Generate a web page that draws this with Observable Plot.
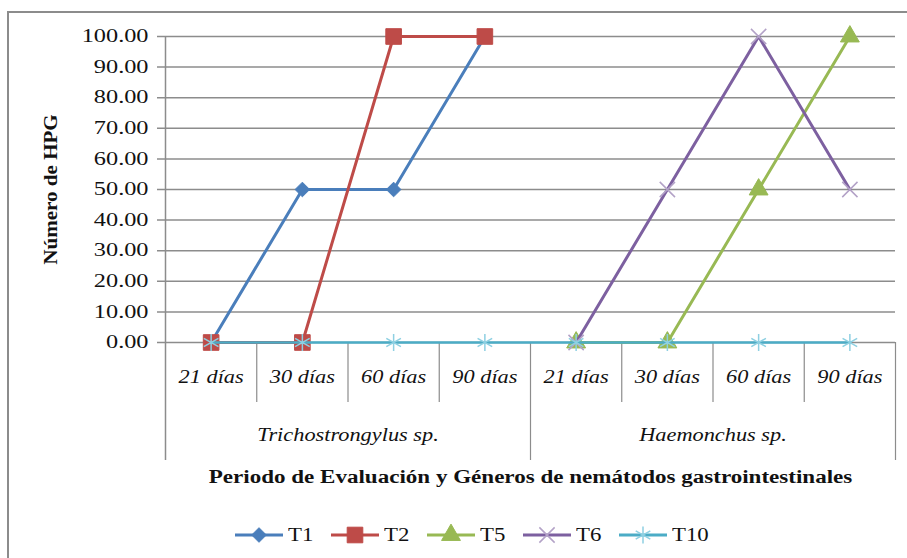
<!DOCTYPE html>
<html>
<head>
<meta charset="utf-8">
<script src="https://cdn.jsdelivr.net/npm/d3@7"></script>
<script src="https://cdn.jsdelivr.net/npm/@observablehq/plot@0.6"></script>
<style>
  html, body { margin: 0; padding: 0; background: #fff; }
  #wrap { position: relative; width: 907px; height: 558px; overflow: hidden; font-family: "Liberation Serif", "Times New Roman", serif; }
  #frame { position: absolute; left: 7px; top: 11px; width: 960px; height: 600px; border-left: 2px solid #8c8c8c; border-top: 2px solid #8c8c8c; }
  #chart { position: absolute; left: 0; top: 0; }
  #legend { position: absolute; left: 235px; top: 516px; height: 38px; display: flex; align-items: center; }
  .item { display: flex; align-items: center; margin-right: 18px; }
  .item span { display: inline-block; font-size: 19px; transform: scaleX(1.2); transform-origin: left center; margin-left: 5px; margin-right: 4px; color: #111; }
</style>
</head>
<body>
<div id="wrap">
  <div id="frame"></div>
  <div id="chart"></div>
  <div id="legend"></div>
</div>
<script>
// ---- data ----
const categories = ["21 días", "30 días", "60 días", "90 días"];
const groups = ["Trichostrongylus sp.", "Haemonchus sp."];
const seriesNames = ["T1", "T2", "T5", "T6", "T10"];
const T1  = [0, 50, 50, 100, null, null, null, null];
const T2  = [0, 0, 100, 100, null, null, null, null];
const T5  = [null, null, null, null, 0, 0, 50, 100];
const T6  = [null, null, null, null, 0, 50, 100, 50];
const T10 = [0, 0, 0, 0, 0, 0, 0, 0];
const yTicks = [0, 10, 20, 30, 40, 50, 60, 70, 80, 90, 100];
const yTitle = "Número de HPG";
const xTitle = "Periodo de Evaluación y Géneros de nemátodos gastrointestinales";

// ---- styles ----
const FONT = "'Liberation Serif', 'Times New Roman', serif";
const lineColors = {T1: "#4A7EBB", T2: "#BE4B48", T5: "#98B954", T6: "#7D60A0", T10: "#4BACC6"};
const markerStyle = {
  T1:  {symbol: "diamond2", r: 6.6, fill: "#4A7EBB", stroke: "#4A7EBB", strokeWidth: 1},
  T2:  {symbol: "square", r: 8.8, fill: "#BE4B48", stroke: "#BE4B48", strokeWidth: 1},
  T5:  {symbol: "triangle", r: 7, fill: "#98B954", stroke: "#98B954", strokeWidth: 1},
  T6:  {symbol: "times", r: 7, fill: "none", stroke: "#B3A2C7", strokeWidth: 1.5},
  T10: {symbol: "asterisk", r: 8, fill: "none", stroke: "#8ED0E2", strokeWidth: 1.5}
};
const seriesValues = {T1, T2, T5, T6, T10};

// table built from the arrays
const slots = [];
groups.forEach((g, gi) => categories.forEach((c, ci) => slots.push({group: g, cat: c, pos: gi * categories.length + ci + 0.5})));
const rows = seriesNames.map(s => seriesValues[s]
  .map((v, i) => ({series: s, pos: slots[i].pos, value: v}))
  .filter(d => d.value !== null));
const groupRows = groups.map((g, gi) => ({group: g, pos: (gi + 0.5) * categories.length}));
const nSlots = slots.length;
const minorDividers = d3.range(1, nSlots).filter(i => i % categories.length !== 0);
const groupDividers = d3.range(categories.length, nSlots + 1, categories.length);

const gridColor = "#8c8c8c";
const textCommon = {fontFamily: FONT, fontSize: 18, fill: "#111", textAnchor: "middle", lineAnchor: "middle"};

const marks = [
  Plot.ruleY(yTicks, {stroke: gridColor, strokeWidth: 1.5, insetLeft: -8}),
  Plot.ruleX([0], {stroke: gridColor, strokeWidth: 1.5, insetBottom: -118}),
  Plot.ruleX(minorDividers, {stroke: gridColor, strokeWidth: 1.2, insetTop: 306, insetBottom: -60}),
  Plot.ruleX(groupDividers, {stroke: gridColor, strokeWidth: 1.2, insetTop: 306, insetBottom: -118}),
  Plot.axisY({ticks: yTicks, tickFormat: d => d.toFixed(2), tickSize: 0, tickPadding: 17, fontSize: 18, fontFamily: FONT, fill: "#111", label: null}),
  Plot.text([yTitle], {...textCommon, frameAnchor: "left", text: d => d, rotate: -90, dx: -114, fontWeight: "bold"}),
  Plot.text(slots, {...textCommon, x: "pos", frameAnchor: "bottom", dy: 35, text: "cat", fontStyle: "italic"}),
  Plot.text(groupRows, {...textCommon, x: "pos", frameAnchor: "bottom", dy: 93, text: "group", fontStyle: "italic"}),
  Plot.text([xTitle], {...textCommon, frameAnchor: "bottom", dy: 135, text: d => d, fontWeight: "bold"})
];
seriesNames.forEach((s, si) => {
  const data = rows[si];
  marks.push(Plot.line(data, {x: "pos", y: "value", stroke: lineColors[s], strokeWidth: s === "T10" ? 2.5 : 3}));
  const m = markerStyle[s];
  marks.push(Plot.dot(data, {x: "pos", y: "value", symbol: m.symbol, r: m.r, fill: m.fill, stroke: m.stroke, strokeWidth: m.strokeWidth}));
});

const chart = Plot.plot({
  width: 907,
  height: 515,
  marginLeft: 165,
  marginRight: 12,
  marginTop: 36,
  marginBottom: 173,
  x: {domain: [0, nSlots], axis: null},
  y: {domain: [0, 100], axis: null},
  style: {fontFamily: FONT, fontSize: "18px", background: "transparent", color: "#111"},
  marks
});
document.getElementById("chart").appendChild(chart);

// emulate the horizontally stretched rendering of the original
chart.querySelectorAll("text").forEach(t => {
  const inYAxis = t.closest('[aria-label="y-axis tick label"]');
  const txt = t.textContent;
  const k = inYAxis ? 1.35 : txt === yTitle ? 1.17 : txt === xTitle ? 1.28 : 1.24;
  const L = t.getComputedTextLength();
  if (L > 0) {
    t.setAttribute("textLength", (L * k).toFixed(1));
    t.setAttribute("lengthAdjust", "spacingAndGlyphs");
  }
});

// legend
const legend = d3.select("#legend");
seriesNames.forEach(s => {
  const m = markerStyle[s];
  const item = legend.append("div").attr("class", "item");
  const svg = item.append("svg").attr("width", 48).attr("height", 22);
  svg.append("line").attr("x1", 0).attr("x2", 48).attr("y1", 11).attr("y2", 11)
    .attr("stroke", lineColors[s]).attr("stroke-width", 3);
  const symbolType = {diamond2: d3.symbolDiamond2, square: d3.symbolSquare, triangle: d3.symbolTriangle, times: d3.symbolTimes, asterisk: d3.symbolAsterisk}[m.symbol];
  svg.append("path").attr("transform", "translate(24,11)")
    .attr("d", d3.symbol(symbolType, Math.PI * m.r * m.r)())
    .attr("fill", m.fill).attr("stroke", m.stroke).attr("stroke-width", m.strokeWidth);
  item.append("span").text(s);
});
</script>
</body>
</html>
